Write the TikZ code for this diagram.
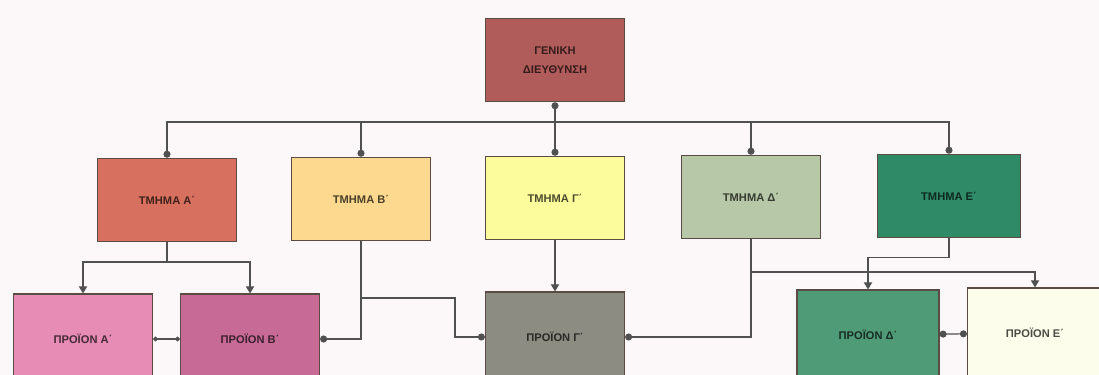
\documentclass[tikz,border=0pt]{standalone}
\usepackage{fontspec}
\setmainfont{Liberation Sans}
\usepackage{xcolor}
\usetikzlibrary{positioning, calc, arrows.meta}

\definecolor{bgc}{HTML}{FCF7F9}
\definecolor{linec}{HTML}{505050}
\definecolor{edgec}{HTML}{5A4C44}
\definecolor{gdc}{HTML}{B05C5A}
\definecolor{tac}{HTML}{D8705F}
\definecolor{tbc}{HTML}{FCD98E}
\definecolor{tgc}{HTML}{FDFC9C}
\definecolor{tdc}{HTML}{B7C8A8}
\definecolor{tec}{HTML}{2F8A68}
\definecolor{pac}{HTML}{E68CB5}
\definecolor{pbc}{HTML}{C76B96}
\definecolor{pgc}{HTML}{8C8C82}
\definecolor{pdc}{HTML}{4F9A77}
\definecolor{pec}{HTML}{FDFDEB}

\begin{document}
\begin{tikzpicture}[
    x=0.03cm, y=-0.03cm,
    box/.style={draw=edgec, line width=1pt, rectangle, minimum width=4.17cm, minimum height=2.5cm, align=center, fill=#1, text=#1!30!black, font=\bfseries\fontsize{9.5}{16}\selectfont},
    prod/.style={box=#1, minimum height=2.7cm},
    conn/.style={draw=linec, line width=1pt},
    cdot/.tip={Circle[length=6pt]},
    sdot/.tip={Circle[length=4pt]},
    ctri/.tip={Triangle[length=6pt, width=7pt]}
]

    % ================= BACKGROUND =================
    \fill[bgc] (0,0) rectangle (1099,375);
    \useasboundingbox (0,0) rectangle (1099,375);
    \clip (0,0) rectangle (1099,375);

    % ================= MANAGEMENT =================
    \node[box=gdc] (GD) at (555,60) {ΓΕΝΙΚΗ\\ΔΙΕΥΘΥΝΣΗ};

    % ================= DEPARTMENTS =================
    \node[box=tac] (TA) at (167,200) {ΤΜΗΜΑ Α΄};
    \node[box=tbc] (TB) at (361,199) {ΤΜΗΜΑ Β΄};
    \node[box=tgc] (TG) at (555,198) {ΤΜΗΜΑ Γ΄};
    \node[box=tdc] (TD) at (751,197) {ΤΜΗΜΑ Δ΄};
    \node[box=tec, minimum width=4.29cm] (TE) at (949,196) {ΤΜΗΜΑ Ε΄};

    % ================= PRODUCTS =================
    \node[prod=pac] (PA) at (83,339) {ΠΡΟΪΟΝ Α΄};
    \node[prod=pbc] (PB) at (250,339) {ΠΡΟΪΟΝ Β΄};
    \node[prod=pgc] (PG) at (555,337) {ΠΡΟΪΟΝ Γ΄};
    \node[prod=pdc, minimum width=4.26cm] (PD) at (868,335) {ΠΡΟΪΟΝ Δ΄};
    \node[prod=pec, minimum width=4.05cm] (PE) at (1035,333) {ΠΡΟΪΟΝ Ε΄};

    % ================= BRANCH POINTS =================
    \coordinate (bus) at (555,122);
    \coordinate (splitA) at (167,262);
    \coordinate (splitB) at (361,298);
    \coordinate (splitD) at (751,272);

    % ================= EDGES =================

    % Management to departments
    \draw[conn, cdot-] (GD.south) -- (bus);
    \foreach \t in {TA,TB,TG,TD,TE}
        \draw[conn, -cdot] (bus) -| (\t.north);

    % Department A to products A, B
    \draw[conn] (TA.south) -- (splitA);
    \draw[conn, -ctri] (splitA) -| (PA.north);
    \draw[conn, -ctri] (splitA) -| (PB.north);

    % Department B to products B, G
    \draw[conn, -cdot] (TB.south) |- (PB.east);
    \draw[conn, -cdot] (splitB) -- ++(94,0) |- (PG.west);

    % Department G to product G
    \draw[conn, -ctri] (TG.south) -- (PG.north);

    % Department D to products G, E
    \draw[conn, -cdot] (TD.south) |- (PG.east);
    \draw[conn, -ctri] (splitD) -| (PE.north);

    % Department E to product D
    \draw[conn, -ctri] (TE.south) -- ++(0,19) -| (PD.north);

    % Product links
    \draw[conn, sdot-sdot] (PA) -- (PB);
    \draw[conn, cdot-cdot] (PD) -- (PE);

\end{tikzpicture}
\end{document}
